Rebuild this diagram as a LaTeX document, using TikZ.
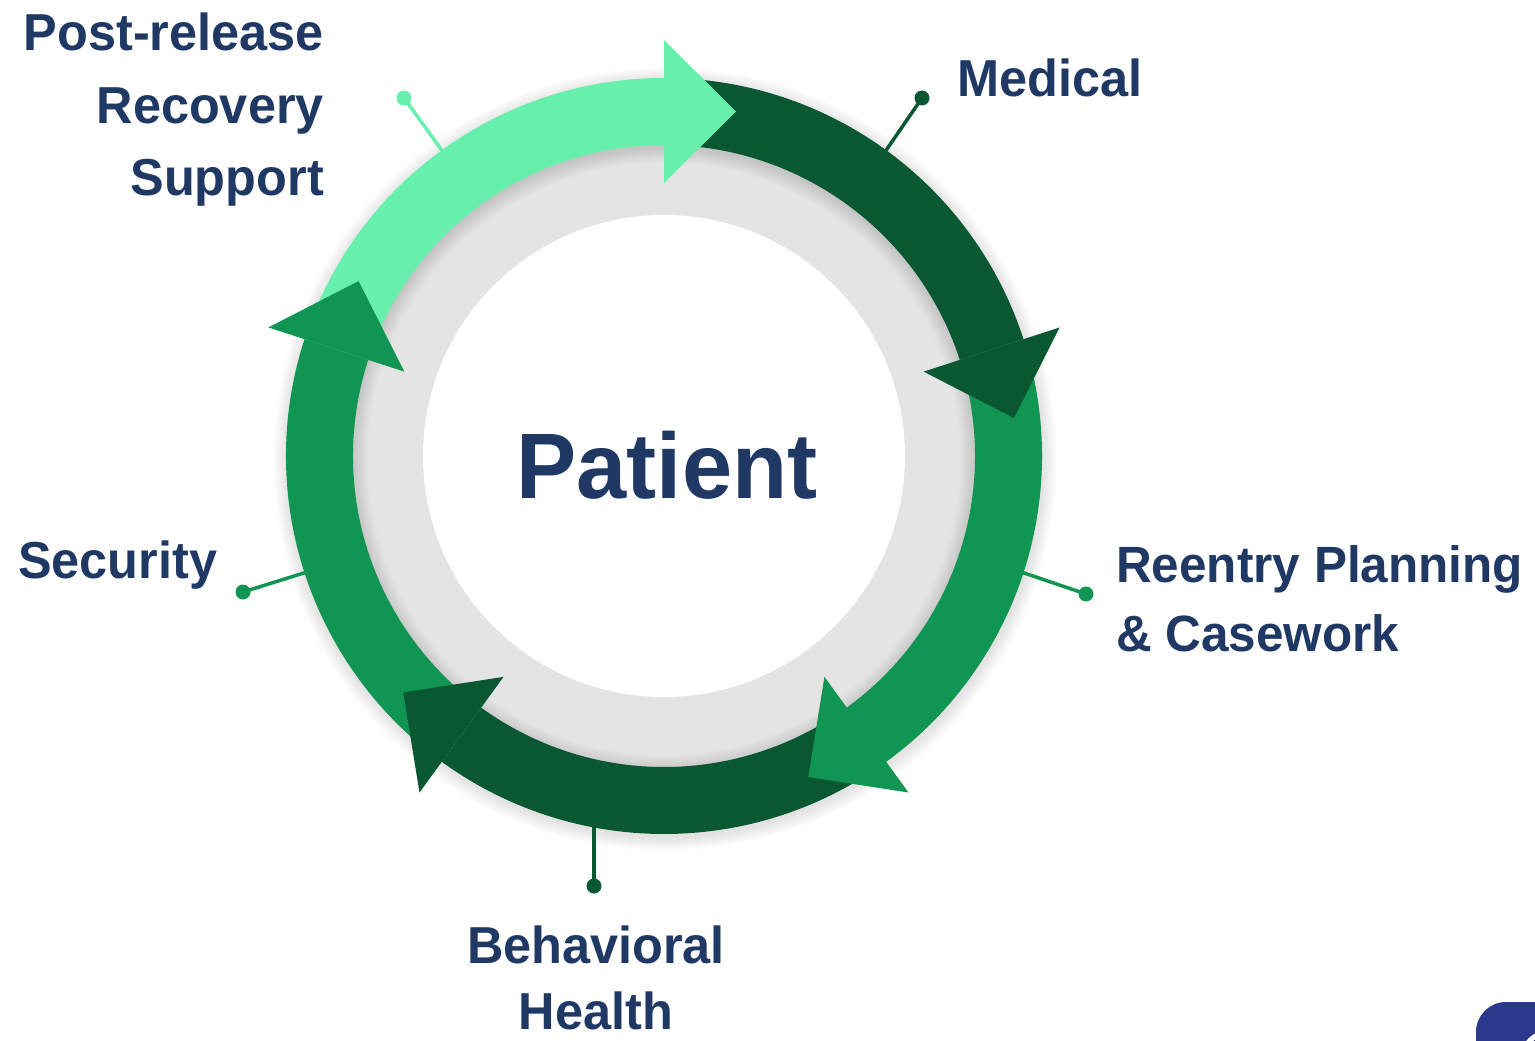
\documentclass[tikz,border=0pt]{standalone}
\usepackage{fontspec}
\setmainfont{Liberation Sans}[FakeStretch=0.97]
\usetikzlibrary{calc}
\definecolor{lgreen}{HTML}{66F0AC}
\definecolor{dgreen}{HTML}{0A5832}
\definecolor{mgreen}{HTML}{109652}
\definecolor{ringgray}{HTML}{E4E4E4}
\definecolor{navy}{HTML}{1F3864}
\definecolor{logoblue}{HTML}{2C388C}
\begin{document}
\begin{tikzpicture}[x=1pt,y=1pt,
  lbl/.style={text=navy, inner sep=0pt, font=\fontsize{52}{72.5}\selectfont\bfseries},
  dotnode/.style={circle, inner sep=0pt, minimum size=15pt},
  leader/.style={line width=3.5pt}]
\useasboundingbox (0,0) rectangle (1535,-1041);
\coordinate (C) at (664,-456);
% outer soft shadow
\foreach \k in {1,...,14} {
  \fill[black, opacity=0.008] ($(C)+(1,-3)$) circle ({378+\k});
}
% gray ring
\fill[ringgray] (C) circle (313);
% inner soft shadow on gray ring
\foreach \k in {1,...,16} {
  \fill[black, opacity=0.009, even odd rule] (C) circle (312) ($(C)+(0,-3)$) circle ({312-\k});
}
% white centre
\fill[white] (C) circle (241);
% ring bands
\foreach \a/\b/\col in {162/90/lgreen, 90/18/dgreen, 18/-54/mgreen, -54/-126/dgreen, -126/-198/mgreen} {
  \fill[\col] ($(C)+(\a:311)$) arc[start angle=\a, end angle=\b, radius=311]
    -- ($(C)+(\b:378)$) arc[start angle=\b, end angle=\a, radius=378] -- cycle;
}
% arrow heads
\foreach \t/\col in {90/lgreen, 18/dgreen, -54/mgreen, -126/dgreen, 162/mgreen} {
  \fill[\col] ($(C)+(\t:273)$) -- ($(C)+(\t:416)$) -- ($(C)+(\t:344.5)+(\t-90:72)$) -- cycle;
}
% centre text
\node[text=navy, inner sep=0pt, font=\fontsize{93}{100}\selectfont\bfseries, anchor=base] (patient) at (667,-498) {Patient};
% leader dots and lines
\node[dotnode, fill=lgreen] (d1) at (404,-98) {};
\coordinate (e1) at ($(C)+(126:377)$);
\draw[leader, lgreen] (d1.center) -- (e1);
\node[dotnode, fill=dgreen] (d2) at (922,-98) {};
\coordinate (e2) at ($(C)+(54:377)$);
\draw[leader, dgreen] (d2.center) -- (e2);
\node[dotnode, fill=mgreen] (d3) at (1086,-594) {};
\coordinate (e3) at ($(C)+(-18:377)$);
\draw[leader, mgreen] (d3.center) -- (e3);
\node[dotnode, fill=dgreen] (d4) at (594,-886) {};
\coordinate (e4) at (594,-826);
\draw[leader, dgreen] (d4.center) -- (e4);
\node[dotnode, fill=mgreen] (d5) at (243,-592) {};
\coordinate (e5) at ($(C)+(198:377)$);
\draw[leader, mgreen] (d5.center) -- (e5);
% labels
\node[lbl, align=right, anchor=north east] (post) at (324,-13) {Post-release\\Recovery\\Support};
\node[lbl, anchor=base west] (medical) at (957,-96) {Medical};
\node[lbl, align=left, anchor=north west, font=\fontsize{51}{69}\selectfont\bfseries] (reentry) at (1116,-545) {Reentry Planning\\\& Casework};
\node[lbl, align=center, anchor=north, font=\fontsize{52}{66}\selectfont\bfseries] (behav) at (596,-926) {Behavioral\\Health};
\node[lbl, anchor=base west] (security) at (18,-578) {Security};
% cut-off logo corner
\fill[logoblue, rounded corners=30pt] (1476,-1002) rectangle (1620,-1120);
\draw[white, line width=5pt] (1550,-1060) circle (28);
\end{tikzpicture}
\end{document}
